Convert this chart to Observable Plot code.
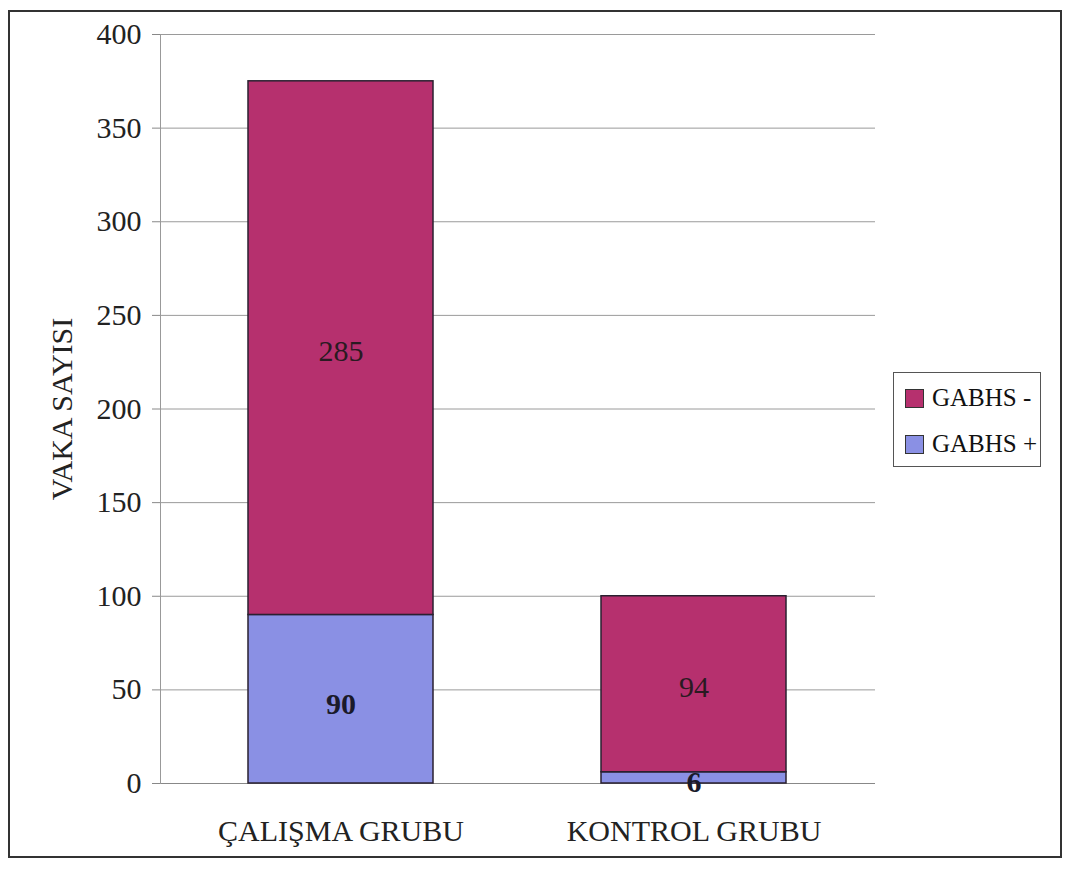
<!DOCTYPE html>
<html>
<head>
<meta charset="utf-8">
<script src="https://cdn.jsdelivr.net/npm/d3@7"></script>
<script src="https://cdn.jsdelivr.net/npm/@observablehq/plot@0.6"></script>
<style>
  html, body { margin: 0; padding: 0; background: #fff; }
  #wrap { position: relative; width: 1069px; height: 873px; overflow: hidden; }
  #frame { position: absolute; left: 8px; top: 10px; width: 1054px; height: 848px; border: 2px solid #333; box-sizing: border-box; pointer-events: none; }
  #legend { position: absolute; left: 893px; top: 372px; width: 148px; height: 95px; border: 1.5px solid #555; box-sizing: border-box; font-family: "Liberation Serif", serif; font-size: 25px; color: #111; }
  .item { position: absolute; left: 11px; display: flex; align-items: center; }
  .sw { width: 19px; height: 19px; border: 1.5px solid #333; box-sizing: border-box; margin-right: 8px; }
</style>
</head>
<body>
<div id="wrap">
  <div id="chart"></div>
  <div id="legend"></div>
  <div id="frame"></div>
</div>
<script>
const groups = ["ÇALIŞMA GRUBU", "KONTROL GRUBU"];
const seriesNames = ["GABHS +", "GABHS -"];
const positive = [90, 6];
const negative = [285, 94];
const yTicks = [0, 50, 100, 150, 200, 250, 300, 350, 400];
const colors = ["#8a90e4", "#b6306e"];

const rows = [];
groups.forEach((g, i) => {
  rows.push({group: g, series: seriesNames[0], value: positive[i]});
  rows.push({group: g, series: seriesNames[1], value: negative[i]});
});

const chart = Plot.plot({
  width: 1069,
  height: 873,
  marginLeft: 160,
  marginRight: 194,
  marginTop: 34,
  marginBottom: 90,
  style: {fontFamily: "'Liberation Serif', serif", fontSize: "30px", color: "#222", background: "transparent"},
  x: {domain: groups, paddingInner: 0.475, paddingOuter: 0.25, label: null},
  y: {domain: [0, 400], ticks: yTicks, label: null},
  color: {domain: seriesNames, range: colors},
  marks: [
    Plot.gridY(yTicks.filter(d => d > 0), {stroke: "#9a9a9a", strokeOpacity: 1, strokeWidth: 1}),
    Plot.ruleY([0], {stroke: "#888"}),
    Plot.frame({anchor: "left", stroke: "#999"}),
    Plot.axisY({ticks: yTicks, tickSize: 8, tickPadding: 11, stroke: "#888", label: "VAKA SAYISI", labelAnchor: "center", labelArrow: "none", labelOffset: 110, fontSize: 30}),
    Plot.axisX({tickSize: 0, tickPadding: 36, fontSize: 30, label: null}),
    Plot.barY(rows, Plot.stackY({x: "group", y: "value", z: "series", fill: "series", order: seriesNames, stroke: "#2a2030", strokeWidth: 1.5})),
    Plot.text(rows, Plot.stackY({x: "group", y: "value", z: "series", order: seriesNames, text: d => d.series === seriesNames[1] ? d.value : "", fontSize: 30, fill: "#2a1a22", dy: 3})),
    Plot.text(rows, Plot.stackY({x: "group", y: "value", z: "series", order: seriesNames, text: d => d.series === seriesNames[0] ? d.value : "", fontSize: 30, fontWeight: "bold", fill: "#1a1a2a", dy: 5}))
  ]
});
document.getElementById("chart").appendChild(chart);

const legend = document.getElementById("legend");
[[seriesNames[1], colors[1], 11], [seriesNames[0], colors[0], 57]].forEach(([name, col, top]) => {
  const it = document.createElement("div");
  it.className = "item";
  it.style.top = top + "px";
  const sw = document.createElement("div");
  sw.className = "sw";
  sw.style.background = col;
  const tx = document.createElement("span");
  tx.textContent = name;
  it.appendChild(sw);
  it.appendChild(tx);
  legend.appendChild(it);
});
</script>
</body>
</html>
